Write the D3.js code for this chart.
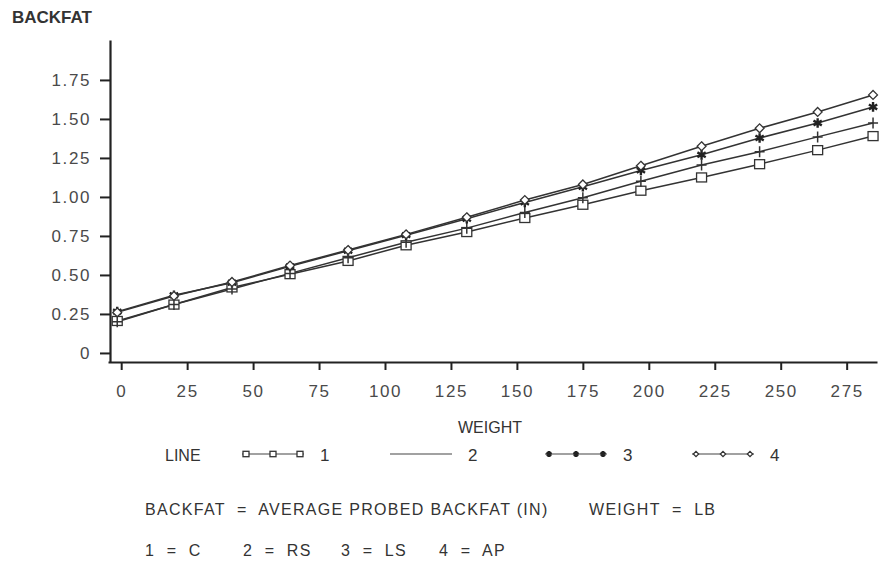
<!DOCTYPE html>
<html>
<head>
<meta charset="utf-8">
<script src="https://cdn.jsdelivr.net/npm/d3@7"></script>
<style>
  body { margin: 0; background: #fff; }
  svg { display: block; font-family: "Liberation Sans", Arial, sans-serif; }
  .tick text { font-size: 17px; fill: #4a4a4a; letter-spacing: 1.6px; }
  .lbl { fill: #333; font-size: 16px; }
</style>
</head>
<body>
<div id="chart"></div>
<script>
// --- data ---
const weights = [-1.5, 20, 42, 64, 86, 108, 131, 153, 175, 197, 220, 242, 264, 285];
const line1 = [0.205, 0.31, 0.42, 0.505, 0.59, 0.69, 0.775, 0.865, 0.95, 1.04, 1.125, 1.21, 1.30, 1.39];
const line2 = [0.20, 0.31, 0.41, 0.51, 0.61, 0.71, 0.80, 0.90, 0.995, 1.10, 1.205, 1.29, 1.385, 1.474];
const line3 = [0.265, 0.37, 0.45, 0.555, 0.655, 0.755, 0.86, 0.965, 1.065, 1.17, 1.27, 1.378, 1.474, 1.577];
const line4 = [0.26, 0.365, 0.455, 0.56, 0.66, 0.76, 0.87, 0.98, 1.08, 1.2, 1.325, 1.44, 1.545, 1.654];
const xTicks = [0, 25, 50, 75, 100, 125, 150, 175, 200, 225, 250, 275];
const yTicks = [0, 0.25, 0.5, 0.75, 1.0, 1.25, 1.5, 1.75];
const lineNames = ["1", "2", "3", "4"];
const lineCodes = ["1 = C", "2 = RS", "3 = LS", "4 = AP"];

const W = 887, H = 563;
const svg = d3.select("#chart").append("svg").attr("width", W).attr("height", H);

const x = d3.scaleLinear().domain([-5, 286.5]).range([108, 877]);
const y = d3.scaleLinear().domain([-0.058, 2.006]).range([362, 40]);

// axes
const xAxis = d3.axisBottom(x).tickValues(xTicks).tickFormat(d3.format("d"))
  .tickSize(8).tickSizeOuter(0).tickPadding(9);
const yAxis = d3.axisLeft(y).tickValues(yTicks)
  .tickFormat(d => d === 0 ? "0" : d3.format(".2f")(d)).tickSize(10).tickSizeOuter(0).tickPadding(9);

const gx = svg.append("g").attr("transform", `translate(0,${y.range()[0]})`).call(xAxis);
const gy = svg.append("g").attr("transform", `translate(${x.range()[0] + 2},0)`).call(yAxis);
[gx, gy].forEach(g => {
  g.select(".domain").attr("stroke", "#222").attr("stroke-width", 2.2);
  g.selectAll(".tick line").attr("stroke", "#222").attr("stroke-width", 2);
});
gx.selectAll(".tick text").attr("dy", "1.05em");

// titles
svg.append("text").attr("x", 12).attr("y", 23).attr("class", "lbl")
  .style("font-weight", "bold").style("font-size", "17px").text("BACKFAT");
svg.append("text").attr("x", 458).attr("y", 433)
  .attr("class", "lbl").style("font-size", "16px").text("WEIGHT");

// markers
function marker(g, type, cx, cy, s) {
  s = s || 1;
  if (type === 0) {
    g.append("rect").attr("x", cx - 5 * s).attr("y", cy - 4.5 * s)
      .attr("width", 10 * s).attr("height", 9 * s)
      .attr("fill", "#fff").attr("stroke", "#333").attr("stroke-width", 1.3);
  } else if (type === 1) {
    g.append("path").attr("d", `M${cx - 5 * s},${cy}H${cx + 5 * s}M${cx},${cy - 5.5 * s}V${cy + 5.5 * s}`)
      .attr("stroke", "#333").attr("stroke-width", 1.5);
  } else if (type === 2) {
    g.append("path").attr("d", d3.symbol().type(d3.symbolAsterisk).size(65 * s * s)())
      .attr("transform", `translate(${cx},${cy})`).attr("stroke", "#222").attr("stroke-width", 2.4).attr("fill", "none");
  } else {
    g.append("path").attr("d", d3.symbol().type(d3.symbolDiamond2).size(50 * s * s)())
      .attr("transform", `translate(${cx},${cy})`).attr("fill", "#fff").attr("stroke", "#333").attr("stroke-width", 1.3);
  }
}

const series = [line1, line2, line3, line4];
const lineGen = d3.line().x(d => x(d[0])).y(d => y(d[1]));
const plot = svg.append("g");
series.forEach((vals, k) => {
  const pts = weights.map((w, i) => [w, vals[i]]);
  plot.append("path").datum(pts).attr("d", lineGen)
    .attr("fill", "none").attr("stroke", "#333").attr("stroke-width", 1.5);
});
series.forEach((vals, k) => {
  const g = plot.append("g");
  weights.forEach((w, i) => marker(g, k, x(w), y(vals[i])));
});

// legend
const legY = 454;
svg.append("text").attr("x", 165).attr("y", legY + 7).attr("class", "lbl").text("LINE");
const legX = [242, 390, 545, 692];
lineNames.forEach((n, k) => {
  const lg = svg.append("g");
  const x0 = legX[k], x1 = x0 + 62;
  lg.append("line").attr("x1", x0).attr("x2", x1).attr("y1", legY).attr("y2", legY)
    .attr("stroke", "#444").attr("stroke-width", 1.1);
  if (k !== 1) [x0 + 4, x0 + 31, x1 - 4].forEach(mx => marker(lg, k, mx, legY, 0.6));
  lg.append("text").attr("x", x1 + 16).attr("y", legY + 7).attr("class", "lbl")
    .style("font-size", "17px").text(n);
});

// footnotes
svg.append("text").attr("x", 145).attr("y", 515).attr("class", "lbl")
  .style("letter-spacing", "1.3px").attr("xml:space", "preserve")
  .text("BACKFAT  =  AVERAGE PROBED BACKFAT (IN)");
svg.append("text").attr("x", 589).attr("y", 515).attr("class", "lbl")
  .style("letter-spacing", "1.3px").attr("xml:space", "preserve").text("WEIGHT  =  LB");
const codeX = [145, 243, 341, 439];
lineCodes.forEach((c, k) => {
  svg.append("text").attr("x", codeX[k]).attr("y", 556).attr("class", "lbl")
    .style("letter-spacing", "1.3px").attr("xml:space", "preserve")
    .text(c.replace(" = ", "  =  "));
});
</script>
</body>
</html>
